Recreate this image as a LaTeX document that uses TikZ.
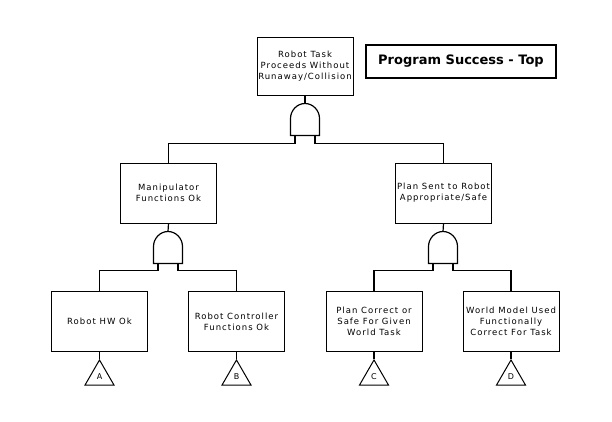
\documentclass[tikz,border=0pt]{standalone}
\usepackage{fontspec}
\usetikzlibrary{shapes.geometric}
\newfontfamily\boxfont[LetterSpace=12]{DejaVu Sans}
\newfontfamily\titlefont{DejaVu Sans}

\begin{document}
\begin{tikzpicture}[x=1pt, y=-1pt,
    every node/.style={draw, rectangle, line width=1pt, inner sep=1pt, align=center,
        minimum width=96pt, minimum height=60pt, font=\boxfont\fontsize{8.5}{11}\selectfont},
    gatebox/.style={draw=none, minimum width=28pt, minimum height=31pt, inner sep=0pt},
    transfer/.style={regular polygon, regular polygon sides=3, minimum size=33.5pt, inner sep=0pt,
        font=\boxfont\fontsize{8}{9}\selectfont},
    line width=1.2pt]

    \useasboundingbox (0,0) rectangle (612,421);

    % Title
    \node[line width=1.8pt, minimum width=190pt, minimum height=33pt,
        font=\titlefont\bfseries\fontsize{13}{15}\selectfont] (title) at (461,61.5) {Program Success - Top};

    % Top event
    \node[minimum height=58pt] (top) at (305,66) {Robot Task\\Proceeds Without\\Runaway/Collision};

    % Middle row
    \node (manip) at (168.5,193) {Manipulator\\Functions Ok};
    \node (plan) at (443.5,193) {Plan Sent to Robot\\Appropriate/Safe};

    % Bottom row
    \node (hw) at (99.5,321.5) {Robot HW Ok};
    \node (ctrl) at (236.5,321.5) {Robot Controller\\Functions Ok};
    \node (pc) at (374,321.5) {Plan Correct or\\Safe For Given\\World Task};
    \node (wm) at (511,321.5) {World Model Used\\Functionally\\Correct For Task};

    % Gates
    \node[gatebox] (g0) at (305,119.5) {};
    \node[gatebox] (g1) at (168,247.5) {};
    \node[gatebox] (g2) at (443,247.5) {};
    \foreach \g in {g0,g1,g2}
        \draw (\g.south west) -- ++(0,-17) .. controls ++(0,-8) and ++(-8,0) .. (\g.north)
            .. controls ++(8,0) and ++(0,-8) .. ([yshift=17pt]\g.south east) -- (\g.south east) -- cycle;

    % Transfer triangles
    \node[transfer] (tA) at (99.5,376.7) {A};
    \node[transfer] (tB) at (236.5,376.7) {B};
    \node[transfer] (tC) at (374,376.7) {C};
    \node[transfer] (tD) at (511,376.7) {D};

    % Edges
    \draw (top.south) -- (g0.north);
    \draw ([xshift=-10pt]g0.south) -- ++(0,8) -| (manip.north);
    \draw ([xshift=10pt]g0.south) -- ++(0,8) -| (plan.north);

    \draw (manip.south) -- (g1.north);
    \draw ([xshift=-10pt]g1.south) -- ++(0,7) -| (hw.north);
    \draw ([xshift=10pt]g1.south) -- ++(0,7) -| (ctrl.north);

    \draw (plan.south) -- (g2.north);
    \draw ([xshift=-10pt]g2.south) -- ++(0,7) -| (pc.north);
    \draw ([xshift=10pt]g2.south) -- ++(0,7) -| (wm.north);

    \draw (hw.south) -- (tA.corner 1);
    \draw (ctrl.south) -- (tB.corner 1);
    \draw (pc.south) -- (tC.corner 1);
    \draw (wm.south) -- (tD.corner 1);

\end{tikzpicture}
\end{document}
